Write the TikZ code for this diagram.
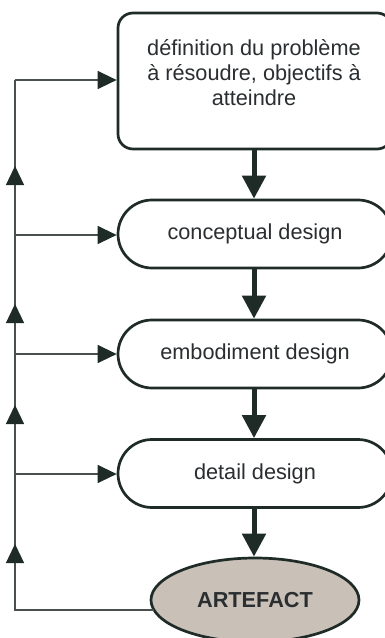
\documentclass[tikz,border=0pt]{standalone}
\usepackage{fontspec}
\setmainfont{Liberation Sans}
\usetikzlibrary{arrows.meta,shapes.geometric}
\definecolor{ink}{HTML}{1F2B27}
\definecolor{thinink}{HTML}{4A504D}
\definecolor{txt}{HTML}{2A2E30}
\definecolor{artfill}{HTML}{C9C1B7}
\tikzset{
  stage/.style={draw=ink, line width=2.7pt, fill=white, rounded corners=34pt,
    minimum width=274pt, minimum height=68pt, text=txt,
    font=\fontsize{21.7}{25}\selectfont},
  topbox/.style={draw=ink, line width=2.7pt, fill=white, rounded corners=15pt,
    minimum width=274pt, minimum height=136pt},
  label/.style={text=txt, align=center, font=\fontsize{21.7}{25}\selectfont},
  artbox/.style={ellipse, draw=ink, line width=2.7pt, fill=artfill,
    minimum width=208pt, minimum height=84pt, inner sep=0pt, text=txt,
    font=\fontsize{21.7}{25}\selectfont\bfseries},
  flow/.style={draw=ink, line width=5pt, -{Triangle[width=23pt,length=23pt]}},
  fb/.style={draw=thinink, line width=1.3pt},
  fbarrow/.style={draw=thinink, line width=1.3pt, -{Triangle[width=18pt,length=19pt,color=ink]}},
}
\begin{document}
\begin{tikzpicture}[x=1pt,y=-1pt]
\useasboundingbox (0,0) rectangle (385,638);
\clip (0,0) rectangle (385,638);
\node[topbox] (def) at (255,81) {};
\node[label] (deftext) at (254,73) {définition du problème\\à résoudre, objectifs à\\atteindre};
\node[stage] (con) at (255,234) {conceptual design};
\node[stage] (emb) at (255,354) {embodiment design};
\node[stage] (det) at (255,473.5) {detail design};
\node[artbox] (art) at (255,600) {ARTEFACT};

\draw[flow] (def.south -| 254,0) -- (con.north -| 254,0);
\draw[flow] (con.south -| 254,0) -- (emb.north -| 254,0);
\draw[flow] (emb.south -| 254,0) -- (det.north -| 254,0);
\draw[flow] (det.south -| 254,0) -- (art.north -| 254,0);

\coordinate (fbstart) at (154,610);
\coordinate (c0) at (15,80);
\coordinate (c1) at (15,235);
\coordinate (c2) at (15,354);
\coordinate (c3) at (15,474);
\coordinate (cb) at (15,610);
\draw[fb] (fbstart) -- (cb) -- (c0);
\draw[fbarrow] (c0) -- (def.west |- c0);
\draw[fbarrow] (c1) -- (con.west |- c1);
\draw[fbarrow] (c2) -- (emb.west |- c2);
\draw[fbarrow] (c3) -- (det.west |- c3);
% mid-line arrowheads on the return line
\coordinate (u1a) at (15,190); \coordinate (u1b) at (15,166);
\coordinate (u2a) at (15,328); \coordinate (u2b) at (15,304);
\coordinate (u3a) at (15,430); \coordinate (u3b) at (15,405);
\coordinate (u4a) at (15,568); \coordinate (u4b) at (15,544);
\foreach \a/\b in {u1a/u1b,u2a/u2b,u3a/u3b,u4a/u4b}
  \draw[fbarrow] (\a) -- (\b);
\end{tikzpicture}
\end{document}
